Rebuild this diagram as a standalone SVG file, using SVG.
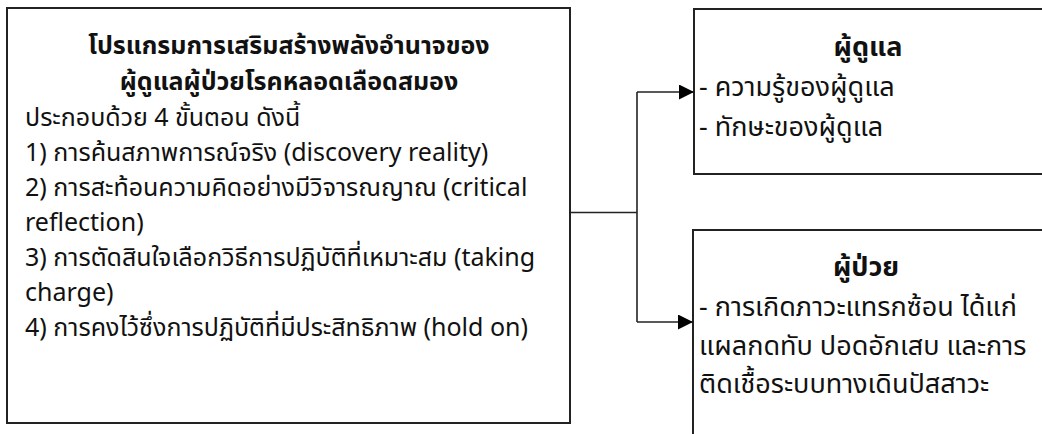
<svg xmlns="http://www.w3.org/2000/svg" width="1042" height="434" viewBox="0 0 1042 434">
<style>
.box{fill:#fff;stroke:#222;stroke-width:2}
.t{font-family:"Noto Sans Thai","Noto Sans","DejaVu Sans",sans-serif;font-size:25px;fill:#111}
.r{font-size:27px}
.b{font-weight:bold}
.c{stroke:#222;stroke-width:1.6;fill:none}
</style>
<defs>
<marker id="ah" markerWidth="16" markerHeight="16" refX="15" refY="7.5" orient="auto" markerUnits="userSpaceOnUse">
<path d="M0,0 L15,7.5 L0,15 Z" fill="#000"/>
</marker>
</defs>
<rect width="1042" height="434" fill="#fff"/>
<g id="program">
<rect class="box" x="7" y="8" width="563" height="415"/>
<text class="t b" x="289" y="54" text-anchor="middle">โปรแกรมการเสริมสร้างพลังอำนาจของ</text>
<text class="t b" x="289" y="90" text-anchor="middle">ผู้ดูแลผู้ป่วยโรคหลอดเลือดสมอง</text>
<text class="t" x="25" y="126">ประกอบด้วย 4 ขั้นตอน ดังนี้</text>
<text class="t" x="25" y="161">1) การค้นสภาพการณ์จริง (discovery reality)</text>
<text class="t" x="25" y="196">2) การสะท้อนความคิดอย่างมีวิจารณญาณ (critical</text>
<text class="t" x="25" y="231">reflection)</text>
<text class="t" x="25" y="266">3) การตัดสินใจเลือกวิธีการปฏิบัติที่เหมาะสม (taking</text>
<text class="t" x="25" y="301">charge)</text>
<text class="t" x="25" y="336">4) การคงไว้ซึ่งการปฏิบัติที่มีประสิทธิภาพ (hold on)</text>
</g>
<g id="caregiver">
<rect class="box" x="694" y="9" width="360" height="165"/>
<text class="t r b" x="868" y="56" text-anchor="middle">ผู้ดูแล</text>
<text class="t r" x="699" y="96">- ความรู้ของผู้ดูแล</text>
<text class="t r" x="699" y="136">- ทักษะของผู้ดูแล</text>
</g>
<g id="patient">
<rect class="box" x="693" y="230" width="360" height="215"/>
<text class="t r b" x="866" y="276" text-anchor="middle">ผู้ป่วย</text>
<text class="t r" x="699" y="316">- การเกิดภาวะแทรกซ้อน ได้แก่</text>
<text class="t r" x="699" y="355">แผลกดทับ ปอดอักเสบ และการ</text>
<text class="t r" x="699" y="393">ติดเชื้อระบบทางเดินปัสสาวะ</text>
</g>
<g id="connectors">
<path class="c" d="M570,212.5 H637"/>
<path class="c" d="M637,92 V322"/>
<path class="c" d="M637,92 H694" marker-end="url(#ah)"/>
<path class="c" d="M637,322 H693" marker-end="url(#ah)"/>
</g>
</svg>
